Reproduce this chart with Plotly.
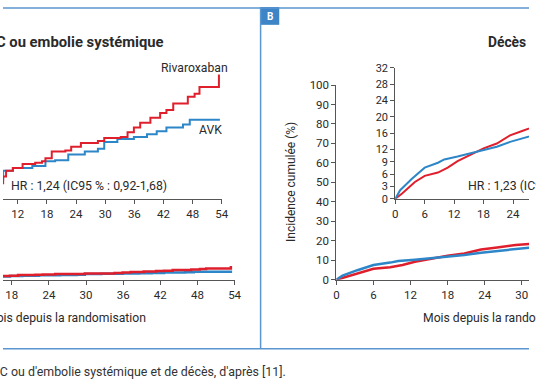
import plotly.graph_objects as go

W, H = 536, 386

# ---------------- data ----------------
# Panel A : AVC ou embolie systémique (cumulative incidence, %)
a_riva_months = [0, 3, 6, 9, 9.6, 11, 13, 15.6, 17, 17.7, 19, 21.8, 23, 25, 28.5, 29.8,
                 33.2, 34.6, 35.9, 37.2, 39.3, 41.3, 42.6, 44, 47, 48.4, 49.4, 53.4, 53.6]
a_riva_vals = [0, 0.45, 0.8, 1.15, 1.45, 1.6, 1.8, 1.87, 1.95, 2.1, 2.45, 2.5, 2.7, 2.9, 3.0, 3.15,
               3.2, 3.45, 3.7, 3.95, 4.2, 4.45, 4.6, 4.95, 5.3, 5.45, 5.8, 6.4, 6.4]
a_avk_months = [0, 3, 6, 9, 11, 15, 17.7, 19.7, 22.4, 25.8, 28.5, 29.8, 32.5, 35.9, 38.6,
                40.6, 42.6, 46, 47.4, 53.6]
a_avk_vals = [0, 0.5, 1.0, 1.45, 1.6, 1.7, 1.95, 2.0, 2.3, 2.45, 2.6, 2.95, 3.1, 3.2, 3.35,
              3.5, 3.7, 3.85, 4.1, 4.1]

# Panel B : Décès
b_riva_months = [0, 1.4, 4, 6, 8.7, 10.7, 12.7, 15.4, 18, 20.7, 23.4, 26, 27.3, 29, 31.5]
b_riva_vals = [0, 1.3, 4.1, 5.6, 6.4, 7.6, 9.2, 10.8, 12.3, 13.5, 15.5, 16.6, 17.2, 17.9, 18.4]
b_avk_months = [0, 1, 3.4, 6, 8.7, 10, 12.7, 15.4, 18, 20.7, 23.4, 26, 27.3, 29, 31.5]
b_avk_vals = [0, 2.1, 4.9, 7.6, 8.8, 9.6, 10.3, 11.1, 11.9, 12.7, 13.9, 14.7, 15.0, 15.7, 16.6]

month_ticks = [0, 6, 12, 18, 24, 30, 36, 42, 48, 54]
main_y_ticks = [0, 10, 20, 30, 40, 50, 60, 70, 80, 90, 100]
inset_b_y_ticks = [0, 3, 6, 9, 12, 16, 20, 24, 28, 32]

# ---------------- style ----------------
RED = "#e01f2d"
BLUE = "#2c86c8"
FRAME = "#5a96cf"
TXT = "#2a2a2a"
FONT = "Roboto"


def px(x):
    return x / W


def py(y):
    return 1 - y / H


fig = go.Figure()

# Panel A main
fig.add_trace(go.Scatter(x=a_avk_months, y=a_avk_vals, mode="lines", line=dict(color=BLUE, width=2.5, shape="hv"),
                         xaxis="x", yaxis="y", showlegend=False))
fig.add_trace(go.Scatter(x=a_riva_months, y=a_riva_vals, mode="lines", line=dict(color=RED, width=2.5, shape="hv"),
                         xaxis="x", yaxis="y", showlegend=False))
# Panel A inset
fig.add_trace(go.Scatter(x=a_avk_months, y=a_avk_vals, mode="lines", line=dict(color=BLUE, width=2, shape="hv"),
                         xaxis="x2", yaxis="y2", showlegend=False))
fig.add_trace(go.Scatter(x=a_riva_months, y=a_riva_vals, mode="lines", line=dict(color=RED, width=2, shape="hv"),
                         xaxis="x2", yaxis="y2", showlegend=False))
# Panel B main
fig.add_trace(go.Scatter(x=b_riva_months, y=b_riva_vals, mode="lines", line=dict(color=RED, width=2.5),
                         xaxis="x3", yaxis="y3", showlegend=False))
fig.add_trace(go.Scatter(x=b_avk_months, y=b_avk_vals, mode="lines", line=dict(color=BLUE, width=2.5),
                         xaxis="x3", yaxis="y3", showlegend=False))
# Panel B inset
fig.add_trace(go.Scatter(x=b_riva_months, y=b_riva_vals, mode="lines", line=dict(color=RED, width=2),
                         xaxis="x4", yaxis="y4", showlegend=False))
fig.add_trace(go.Scatter(x=b_avk_months, y=b_avk_vals, mode="lines", line=dict(color=BLUE, width=2),
                         xaxis="x4", yaxis="y4", showlegend=False))

axis_common = dict(showgrid=False, zeroline=False, showline=True, linecolor="#555555", linewidth=1,
                   ticks="outside", ticklen=4, tickcolor="#555555", tickwidth=1,
                   tickfont=dict(family=FONT, size=11.5, color=TXT))

main_ydom = [py(283), py(81)]
inset_ydom = [py(199), py(63)]

fig.update_layout(
    width=W, height=H, margin=dict(l=0, r=0, t=0, b=0),
    paper_bgcolor="white", plot_bgcolor="rgba(0,0,0,0)",
    xaxis=dict(axis_common, domain=[0, px(236)], range=[18 - 9 / 6.306, 54], tickvals=month_ticks, anchor="y"),
    yaxis=dict(domain=main_ydom, range=[0, 100], visible=False, anchor="x"),
    xaxis2=dict(axis_common, domain=[0, px(223)], range=[12 - 15 / 4.95, 54], tickvals=month_ticks, anchor="y2"),
    yaxis2=dict(domain=inset_ydom, range=[0, 6.8], visible=False, anchor="x2"),
    xaxis3=dict(axis_common, domain=[px(339.7), 1], range=[0, (W - 339.7) / 6.3], tickvals=month_ticks, anchor="y3"),
    yaxis3=dict(axis_common, domain=main_ydom, range=[0, 100], tickvals=main_y_ticks, anchor="x3"),
    xaxis4=dict(axis_common, domain=[px(399.7), 1], range=[0, (W - 399.7) / 5.0], tickvals=month_ticks, anchor="y4"),
    yaxis4=dict(axis_common, domain=inset_ydom, range=[0, 32], tickvals=inset_b_y_ticks, anchor="x4",
                tickfont=dict(family=FONT, size=11, color=TXT)),
)

ann = []


def text(x, y, s, size=11, bold=False, xanchor="left", color=TXT, angle=0):
    shift = {"left": -2, "right": 2, "center": 0}[xanchor]
    ann.append(dict(x=px(x), y=py(y), xref="paper", yref="paper", text=(f"<b>{s}</b>" if bold else s),
                    showarrow=False, xanchor=xanchor, yanchor="middle", textangle=angle,
                    xshift=shift, borderpad=0,
                    font=dict(family=FONT, size=size, color=color)))


text(163, 36, "AVC ou embolie systémique", size=14.8, bold=True, xanchor="right")
text(228, 63, "Rivaroxaban", size=12.2, xanchor="right")
text(222, 128, "AVK", size=12.2, xanchor="right")
text(9, 186, "HR : 1,24 (IC95 % : 0,92-1,68)", size=12.3)
text(145, 323, "Mois depuis la randomisation", size=12.2, xanchor="right")

text(495, 36, "Décès", size=13.8, bold=True)
text(475, 186, "HR : 1,23 (IC95 % : 0,96-1,57)", size=12.3)
text(429, 323, "Mois depuis la randomisation", size=12.2)
text(294, 182, "Incidence cumulée (%)", size=12, xanchor="center", angle=-90)

text(287, 378, "d'AVC ou d'embolie systémique et de décès, d'après [11].", size=12.4,
     xanchor="right", color="#333333")
text(272, 9.5, "B", size=10, bold=True, xanchor="center", color="white")

fig.update_layout(annotations=ann)

shapes = [
    dict(type="rect", xref="paper", yref="paper", x0=px(262.5), x1=px(281.5), y0=py(0), y1=py(18.5),
         fillcolor="#3d85c6", line=dict(width=0), layer="below"),
    dict(type="line", xref="paper", yref="paper", x0=0, x1=1, y0=py(1), y1=py(1),
         line=dict(color=FRAME, width=1.5)),
    dict(type="line", xref="paper", yref="paper", x0=px(262.5), x1=px(262.5), y0=py(0), y1=py(354.5),
         line=dict(color=FRAME, width=1.5)),
    dict(type="line", xref="paper", yref="paper", x0=0, x1=1, y0=py(354.5), y1=py(354.5),
         line=dict(color=FRAME, width=1.5)),
]
fig.update_layout(shapes=shapes)

fig.write_html("out.html", config={"displayModeBar": False},
               post_script="document.body.style.margin='0';document.body.style.overflow='hidden';")
